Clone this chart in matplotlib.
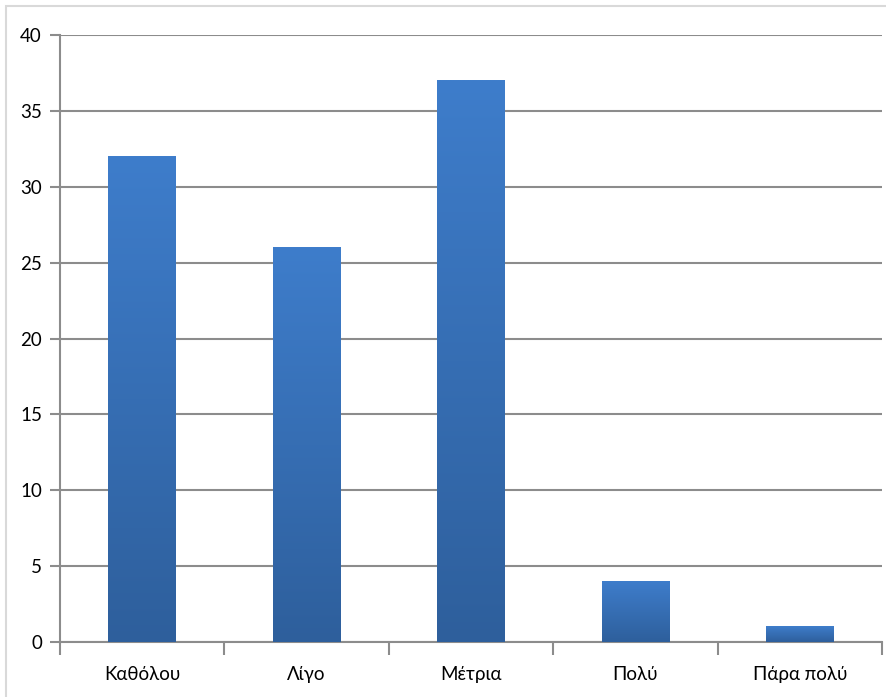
import numpy as np
import matplotlib.pyplot as plt
from matplotlib.patches import Rectangle
from matplotlib.colors import LinearSegmentedColormap

categories = ["Καθόλου", "Λίγο", "Μέτρια", "Πολύ", "Πάρα πολύ"]
values = [32, 26, 37, 4, 1]
y_ticks = [0, 5, 10, 15, 20, 25, 30, 35, 40]

plt.rcParams['font.family'] = ['Lato', 'Noto Sans', 'DejaVu Sans']

fig = plt.figure(figsize=(8.86, 6.97), dpi=100)
ax = fig.add_axes([60 / 886, 55 / 697, 822 / 886, 607 / 697])

# light frame around the whole chart
fig.patches.append(Rectangle((6 / 886, -0.02), 1, 1 - 6 / 697 + 0.02,
                             transform=fig.transFigure, fill=False,
                             edgecolor="#d9d9d9", linewidth=1.5))

grad = LinearSegmentedColormap.from_list("bar", ["#2e5f9c", "#3e7dcb"])
x = np.arange(len(categories))
width = 0.41
for xi, v in zip(x, values):
    g = np.linspace(0, 1, 256).reshape(-1, 1)
    ax.imshow(g, extent=[xi - width / 2, xi + width / 2, 0, v], origin="lower",
              cmap=grad, aspect="auto", zorder=3, interpolation="bilinear")

ax.set_xlim(-0.5, len(categories) - 0.5)
ax.set_ylim(0, 40)
ax.set_yticks(y_ticks)
ax.set_yticklabels([str(t) for t in y_ticks], fontsize=13.5)
ax.set_xticks(x)
ax.set_xticklabels(categories, fontsize=13.5)
ax.set_xticks(np.arange(len(categories) + 1) - 0.5, minor=True)

ax.yaxis.grid(True, color="#8c8c8c", linewidth=1.5, zorder=0)
ax.set_axisbelow(True)
for s in ["top", "right"]:
    ax.spines[s].set_visible(False)
for s in ["left", "bottom"]:
    ax.spines[s].set_color("#8c8c8c")
    ax.spines[s].set_linewidth(1.5)

ax.tick_params(axis="y", length=7, width=1.5, color="#8c8c8c", pad=6, labelcolor="black")
ax.tick_params(axis="x", which="major", length=0, pad=17, labelcolor="black")
ax.tick_params(axis="x", which="minor", length=9, width=1.5, color="#8c8c8c")

fig.savefig("out.png", dpi=100)
